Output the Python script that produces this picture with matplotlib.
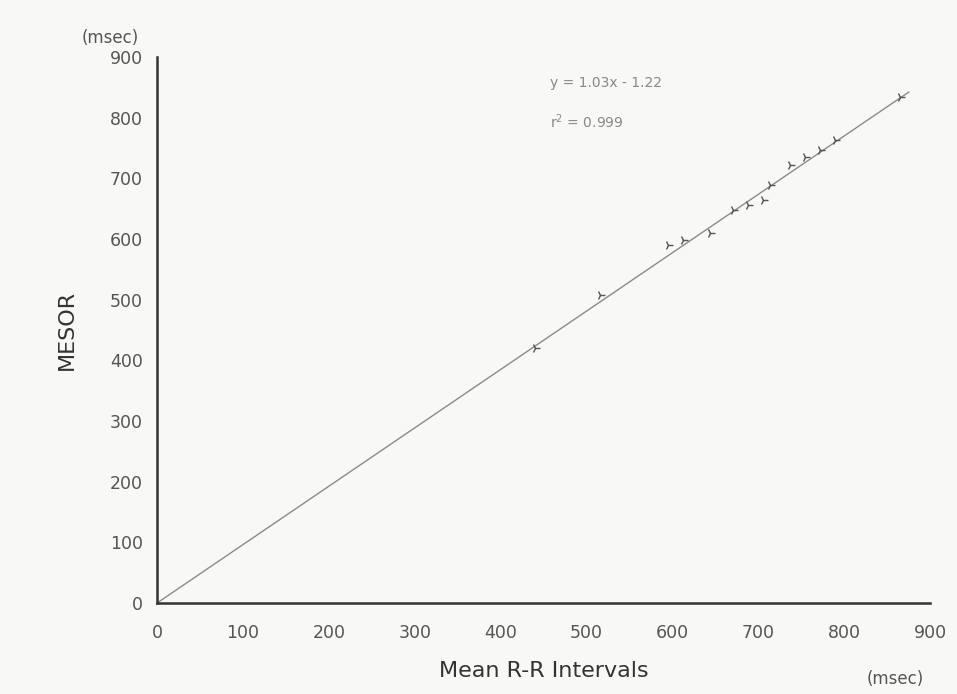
import numpy as np
import matplotlib.pyplot as plt

# mean R-R interval (x) vs MESOR (y), msec
rr = [440, 516, 595, 612, 644, 671, 688, 705, 714, 737, 754, 772, 789, 865]
mesor = [420, 507, 590, 598, 610, 647, 656, 664, 689, 722, 735, 746, 763, 834]

# regression line as drawn
line_x = [0, 875]
line_y = [0, 842]

ticks = [0, 100, 200, 300, 400, 500, 600, 700, 800, 900]

fig = plt.figure(figsize=(9.57, 6.94), dpi=100)
fig.patch.set_facecolor("#f8f8f6")
ax = fig.add_axes([0.164, 0.131, 0.808, 0.787])
ax.set_facecolor("#f8f8f6")

ax.plot(line_x, line_y, color="#8a8a8a", lw=1.0)
ax.plot(rr, mesor, ls="none", marker="4", ms=7, mew=1.0, color="#555555")

ax.set_xlim(0, 900)
ax.set_ylim(0, 900)
ax.set_xticks(ticks)
ax.set_yticks(ticks)
ax.tick_params(length=0, labelsize=12.5, labelcolor="#555555")
ax.tick_params(axis="x", pad=15)
ax.tick_params(axis="y", pad=10)
for s in ["top", "right"]:
    ax.spines[s].set_visible(False)
for s in ["left", "bottom"]:
    ax.spines[s].set_linewidth(1.8)
    ax.spines[s].set_color("#333333")

ax.set_xlabel("Mean R-R Intervals", fontsize=16, color="#333333", labelpad=14)
ax.set_ylabel("MESOR", fontsize=16, color="#333333", labelpad=24)

fig.text(0.115, 0.938, "(msec)", fontsize=12, color="#555555", ha="center")
fig.text(0.935, 0.015, "(msec)", fontsize=12, color="#555555", ha="center")

ax.text(457, 850, "y = 1.03x - 1.22", fontsize=10, color="#888888")
ax.text(457, 783, "r$^2$ = 0.999", fontsize=10, color="#888888")

fig.savefig("out.png", dpi=100, facecolor=fig.get_facecolor())
